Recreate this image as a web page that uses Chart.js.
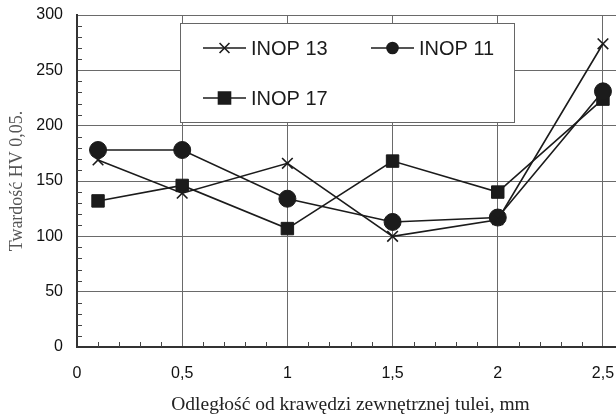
<!DOCTYPE html>
<html>
<head>
<meta charset="utf-8">
<script src="https://cdn.jsdelivr.net/npm/chart.js@4/dist/chart.umd.min.js"></script>
<style>
    html, body { margin: 0; padding: 0; background: #fff; overflow: hidden; }
    #wrap { width: 640px; height: 417px; }
</style>
</head>
<body>
<div id="wrap"><canvas id="hardnessChart"></canvas></div>
<script>
// odległość od krawędzi, mm
const distances = [0.1, 0.5, 1, 1.5, 2, 2.5];
// twardość HV 0,05
const inop13 = [169, 139, 166, 100, 115, 274];
const inop11 = [178, 178, 134, 113, 117, 231];
const inop17 = [132, 146, 107, 168, 140, 224];
const seriesNames = ['INOP 13', 'INOP 11', 'INOP 17'];

const xTicks = [0, 0.5, 1, 1.5, 2, 2.5];
const yTicks = [0, 50, 100, 150, 200, 250, 300];

const toPoints = values => values.map((v, i) => ({x: distances[i], y: v}));

const ink = '#1b1b1b';

const styles = [
    {pointStyle: 'crossRot', pointRadius: 7.5, legendRadius: 7},
    {pointStyle: 'circle', pointRadius: 8.5, legendRadius: 5.5},
    {pointStyle: 'rect', pointRadius: 8.8, legendRadius: 8.5}
];

// małe podziałki na osiach (wewnątrz obszaru wykresu)
const minorTicks = {
    id: 'minorTicks',
    afterDraw(chart) {
        const {ctx, chartArea, scales} = chart;
        ctx.save();
        ctx.strokeStyle = '#444';
        ctx.lineWidth = 1;
        ctx.beginPath();
        for (let v = 10; v < 300; v += 10) {
            if (v % 50 === 0) continue;
            const y = Math.round(scales.y.getPixelForValue(v)) + 0.5;
            ctx.moveTo(chartArea.left, y);
            ctx.lineTo(chartArea.left + 5, y);
        }
        for (let k = 1; k <= 25; k++) {
            if (k % 5 === 0) continue;
            const x = Math.round(scales.x.getPixelForValue(k / 10)) + 0.5;
            ctx.moveTo(x, chartArea.bottom);
            ctx.lineTo(x, chartArea.bottom - 5);
        }
        ctx.stroke();
        ctx.restore();
    }
};

// legenda w ramce wewnątrz wykresu
const boxLegend = {
    id: 'boxLegend',
    afterDraw(chart) {
        const {ctx} = chart;
        const box = {left: 180.5, top: 23.5, width: 334, height: 99};
        const rows = [
            {x: 203, y: 48},
            {x: 371, y: 48},
            {x: 203, y: 98}
        ];
        ctx.save();
        ctx.fillStyle = '#fff';
        ctx.fillRect(box.left, box.top, box.width, box.height);
        ctx.strokeStyle = '#666';
        ctx.lineWidth = 1;
        ctx.strokeRect(box.left, box.top, box.width, box.height);

        chart.data.datasets.forEach((ds, i) => {
            const r = rows[i];
            ctx.strokeStyle = ink;
            ctx.lineWidth = 1.6;
            ctx.beginPath();
            ctx.moveTo(r.x, r.y);
            ctx.lineTo(r.x + 43, r.y);
            ctx.stroke();
            Chart.helpers.drawPoint(ctx, {
                pointStyle: ds.pointStyle,
                radius: styles[i].legendRadius,
                borderWidth: 1.6,
                rotation: 0
            }, r.x + 21.5, r.y);
            ctx.fillStyle = ink;
            ctx.font = '20px "Liberation Sans", Arial, sans-serif';
            ctx.textBaseline = 'middle';
            ctx.textAlign = 'left';
            ctx.fillText(ds.label, r.x + 48, r.y + 1);
        });
        ctx.restore();
    }
};

const series = [inop13, inop11, inop17];

new Chart(document.getElementById('hardnessChart'), {
    type: 'line',
    data: {
        datasets: series.map((values, i) => ({
            label: seriesNames[i],
            data: toPoints(values),
            borderColor: ink,
            backgroundColor: ink,
            borderWidth: 1.6,
            pointStyle: styles[i].pointStyle,
            pointRadius: styles[i].pointRadius,
            pointBorderWidth: i === 0 ? 1.6 : 1,
            pointBorderColor: ink,
            pointBackgroundColor: ink,
            tension: 0,
            fill: false
        }))
    },
    options: {
        responsive: true,
        maintainAspectRatio: false,
        animation: false,
        layout: {
            padding: {top: 15, right: 16, left: 0, bottom: 0}
        },
        plugins: {
            legend: {display: false},
            tooltip: {enabled: false}
        },
        scales: {
            x: {
                type: 'linear',
                min: 0,
                max: 2.6,
                afterBuildTicks: scale => {
                    scale.ticks = xTicks.map(v => ({value: v}));
                },
                afterFit: scale => {
                    scale.height = 70;
                    scale.paddingLeft = 0;
                    scale.paddingRight = 0;
                },
                ticks: {
                    padding: 17,
                    color: '#111',
                    font: {family: '"Liberation Sans", Arial, sans-serif', size: 16},
                    callback: value => String(value).replace('.', ',')
                },
                grid: {
                    color: '#6a6a6a',
                    lineWidth: 1,
                    drawTicks: false
                },
                border: {display: true, color: '#333', width: 2},
                title: {
                    display: true,
                    text: 'Odległość od krawędzi zewnętrznej tulei, mm',
                    color: '#222',
                    font: {family: '"Liberation Serif", "Times New Roman", serif', size: 19.5},
                    padding: {top: 0, bottom: 0}
                }
            },
            y: {
                min: 0,
                max: 300,
                afterBuildTicks: scale => {
                    scale.ticks = yTicks.map(v => ({value: v}));
                },
                afterFit: scale => {
                    scale.width = 77;
                    scale.paddingTop = 0;
                    scale.paddingBottom = 0;
                },
                ticks: {
                    padding: 14,
                    color: '#111',
                    font: {family: '"Liberation Sans", Arial, sans-serif', size: 16}
                },
                grid: {
                    color: '#6a6a6a',
                    lineWidth: 1,
                    drawTicks: false
                },
                border: {display: true, color: '#333', width: 2},
                title: {
                    display: true,
                    text: 'Twardość HV 0,05.',
                    color: '#555',
                    font: {family: '"Liberation Serif", "Times New Roman", serif', size: 18},
                    padding: {top: 6, bottom: 0}
                }
            }
        }
    },
    plugins: [minorTicks, boxLegend]
});
</script>
</body>
</html>
